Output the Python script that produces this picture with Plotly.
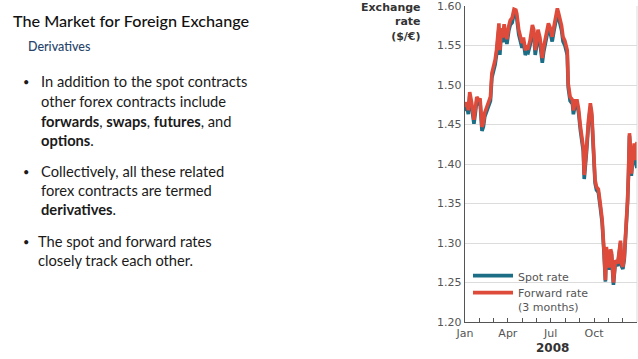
import plotly.graph_objects as go

# ---------------- data ----------------
dates = [
    "2008-01-01", "2008-01-05", "2008-01-08", "2008-01-11", "2008-01-15", "2008-01-20", "2008-01-23",
    "2008-01-26", "2008-01-30", "2008-02-02", "2008-02-06", "2008-02-09", "2008-02-12", "2008-02-16",
    "2008-02-21", "2008-02-24", "2008-02-27", "2008-03-02", "2008-03-05", "2008-03-08", "2008-03-11",
    "2008-03-13", "2008-03-15", "2008-03-18", "2008-03-21", "2008-03-24", "2008-03-27", "2008-03-30",
    "2008-04-03", "2008-04-06", "2008-04-10", "2008-04-14", "2008-04-18", "2008-04-20", "2008-04-24",
    "2008-04-27", "2008-05-01", "2008-05-04", "2008-05-08", "2008-05-11", "2008-05-14", "2008-05-18",
    "2008-05-23", "2008-05-26", "2008-05-29", "2008-06-01", "2008-06-04", "2008-06-08", "2008-06-10",
    "2008-06-13", "2008-06-16", "2008-06-19", "2008-06-23", "2008-06-26", "2008-06-30", "2008-07-04",
    "2008-07-08", "2008-07-11", "2008-07-15", "2008-07-18", "2008-07-21", "2008-07-24", "2008-07-27",
    "2008-07-31", "2008-08-05", "2008-08-07", "2008-08-11", "2008-08-16", "2008-08-18", "2008-08-22",
    "2008-08-26", "2008-08-29", "2008-09-02", "2008-09-05", "2008-09-08", "2008-09-10", "2008-09-13",
    "2008-09-15", "2008-09-19", "2008-09-23", "2008-09-26", "2008-09-29", "2008-10-03", "2008-10-06",
    "2008-10-10", "2008-10-14", "2008-10-18", "2008-10-22", "2008-10-25", "2008-10-27", "2008-10-30",
    "2008-11-02", "2008-11-05", "2008-11-07", "2008-11-11", "2008-11-15", "2008-11-20", "2008-11-24",
    "2008-11-26", "2008-11-28", "2008-12-01", "2008-12-04", "2008-12-09", "2008-12-11", "2008-12-13",
    "2008-12-15", "2008-12-17", "2008-12-19", "2008-12-22", "2008-12-25", "2008-12-28", "2008-12-31",
]

forward_rate = [
    1.472, 1.478, 1.468, 1.491, 1.478, 1.456, 1.470,
    1.485, 1.480, 1.483, 1.447, 1.452, 1.465, 1.472,
    1.480, 1.485, 1.515, 1.525, 1.532, 1.545, 1.570,
    1.578, 1.544, 1.572, 1.560, 1.577, 1.566, 1.558,
    1.575, 1.582, 1.585, 1.596, 1.595, 1.590, 1.570,
    1.561, 1.553, 1.560, 1.544, 1.548, 1.547, 1.556,
    1.576, 1.570, 1.544, 1.555, 1.570, 1.560, 1.548,
    1.534, 1.548, 1.557, 1.565, 1.578, 1.572, 1.561,
    1.575, 1.585, 1.597, 1.590, 1.582, 1.575, 1.561,
    1.556, 1.544, 1.502, 1.485, 1.481, 1.468, 1.480,
    1.480, 1.470, 1.447, 1.430, 1.421, 1.386, 1.405,
    1.421, 1.455, 1.477, 1.465, 1.421, 1.380, 1.371,
    1.368, 1.350, 1.330, 1.290, 1.253, 1.295, 1.285,
    1.269, 1.292, 1.288, 1.250, 1.278, 1.274, 1.290,
    1.303, 1.274, 1.270, 1.282, 1.325, 1.355, 1.390,
    1.439, 1.420, 1.388, 1.410, 1.426, 1.405, 1.428,
]

spot_rate = [
    1.467, 1.473, 1.463, 1.486, 1.473, 1.451, 1.465,
    1.480, 1.475, 1.478, 1.442, 1.447, 1.460, 1.467,
    1.475, 1.480, 1.509, 1.519, 1.526, 1.539, 1.564,
    1.572, 1.538, 1.566, 1.554, 1.571, 1.560, 1.552,
    1.569, 1.576, 1.579, 1.590, 1.589, 1.584, 1.564,
    1.555, 1.547, 1.554, 1.538, 1.542, 1.541, 1.550,
    1.570, 1.564, 1.538, 1.549, 1.564, 1.554, 1.542,
    1.528, 1.542, 1.551, 1.559, 1.572, 1.566, 1.555,
    1.569, 1.579, 1.591, 1.584, 1.576, 1.569, 1.555,
    1.550, 1.538, 1.497, 1.480, 1.476, 1.463, 1.475,
    1.475, 1.465, 1.442, 1.425, 1.416, 1.381, 1.400,
    1.416, 1.450, 1.472, 1.460, 1.416, 1.376, 1.367,
    1.364, 1.346, 1.326, 1.287, 1.251, 1.292, 1.282,
    1.266, 1.289, 1.285, 1.247, 1.275, 1.271, 1.287,
    1.300, 1.271, 1.267, 1.279, 1.322, 1.352, 1.387,
    1.436, 1.417, 1.385, 1.406, 1.422, 1.401, 1.395,
]

y_ticks = [1.20, 1.25, 1.30, 1.35, 1.40, 1.45, 1.50, 1.55, 1.60]
y_tick_labels = ["1.20", "1.25", "1.30", "1.35", "1.40", "1.45", "1.50", "1.55", "1.60"]
x_tick_vals = ["2008-01-01", "2008-04-01", "2008-07-01", "2008-10-01"]
x_tick_labels = ["Jan", "Apr", "Jul", "Oct"]

# ---------------- layout helpers (pixel -> paper) ----------------
W, H = 638, 359
ML, MR, MT, MB = 465, 1, 6, 37
PW, PH = W - ML - MR, H - MT - MB


def px(x):
    return (x - ML) / PW


def py(y):
    return (H - MB - y) / PH


SPOT_C = "#1c6d86"
FWD_C = "#df4b3b"
AX_FONT = "DejaVu Sans"
LEG_FONT = dict(family=AX_FONT, size=11, color="#555555")

fig = go.Figure()
fig.add_trace(go.Scatter(
    x=dates, y=spot_rate, mode="lines", name="Spot rate", legend="legend",
    line=dict(color=SPOT_C, width=3.6), hoverinfo="skip",
))
fig.add_trace(go.Scatter(
    x=dates, y=forward_rate, mode="lines", name="Forward rate<br>(3 months)", legend="legend2",
    line=dict(color=FWD_C, width=3.6), hoverinfo="skip",
))

fig.update_layout(
    width=W, height=H,
    margin=dict(l=ML, r=MR, t=MT, b=MB, pad=0),
    paper_bgcolor="white", plot_bgcolor="white",
    showlegend=True,
    legend=dict(
        x=px(468), y=py(262), xanchor="left", yanchor="top", valign="top",
        bgcolor="rgba(0,0,0,0)", borderwidth=0, font=LEG_FONT, itemwidth=40,
    ),
    legend2=dict(
        x=px(468), y=py(279), xanchor="left", yanchor="top", valign="top",
        bgcolor="rgba(0,0,0,0)", borderwidth=0, font=LEG_FONT, itemwidth=40,
    ),
    xaxis=dict(
        type="date",
        range=["2008-01-01", "2008-12-31"],
        tickmode="array", tickvals=x_tick_vals, ticktext=x_tick_labels,
        ticks="inside", ticklen=4, tickcolor="#555555", tickwidth=1,
        minor=dict(dtick="M1", ticks="inside", ticklen=4, tickcolor="#555555", tickwidth=1, showgrid=False),
        showgrid=False, zeroline=False,
        showline=True, linecolor="#555555", linewidth=1.3,
        tickfont=dict(family=AX_FONT, size=11, color="#555555"),
        ticklabeloverflow="allow",
        fixedrange=True,
    ),
    yaxis=dict(
        range=[1.20, 1.60],
        tickmode="array", tickvals=y_ticks, ticktext=y_tick_labels,
        ticks="", showgrid=True, gridcolor="#dcdcdc", gridwidth=1,
        zeroline=False, showline=True, linecolor="#555555", linewidth=1.3,
        tickfont=dict(family=AX_FONT, size=11, color="#555555"),
        ticklabeloverflow="allow",
        fixedrange=True,
    ),
)

# right frame line of plot
fig.add_shape(type="line", xref="paper", yref="paper", x0=1, x1=1, y0=0, y1=1,
              line=dict(color="#dcdcdc", width=1))

# axis titles
fig.add_annotation(text="<b>Exchange<br>rate<br>(&#36;/€)</b>", x=px(423), y=py(-1), xref="paper", yref="paper",
                   xanchor="right", yanchor="top", align="right", showarrow=False,
                   font=dict(family=AX_FONT, size=11, color="#333333"))
fig.add_annotation(text="<b>2008</b>", x=px(552), y=py(348), xref="paper", yref="paper",
                   xanchor="center", yanchor="middle", showarrow=False,
                   font=dict(family=AX_FONT, size=12, color="#333333"))

# slide text
TXT_FONT = "Lato"
fig.add_annotation(text="The Market for Foreign Exchange", x=px(11), y=py(20), xref="paper", yref="paper",
                   xanchor="left", yanchor="middle", showarrow=False,
                   font=dict(family=TXT_FONT, size=16.2, color="#111111", weight=500))
fig.add_annotation(text="Derivatives", x=px(26), y=py(46), xref="paper", yref="paper",
                   xanchor="left", yanchor="middle", showarrow=False,
                   font=dict(family=TXT_FONT, size=12.5, color="#27456b", weight=500))

lines = [
    (39, 81, "In addition to the spot contracts"),
    (39, 101, "other forex contracts include"),
    (39, 121, "<b>forwards</b>, <b>swaps</b>, <b>futures</b>, and"),
    (39, 140, "<b>options</b>."),
    (39, 171, "Collectively, all these related"),
    (39, 190, "forex contracts are termed"),
    (39, 209, "<b>derivatives</b>."),
    (36, 241, "The spot and forward rates"),
    (36, 260, "closely track each other."),
]
for x0, y0, t in lines:
    fig.add_annotation(text=t, x=px(x0), y=py(y0), xref="paper", yref="paper",
                       xanchor="left", yanchor="middle", showarrow=False,
                       font=dict(family=TXT_FONT, size=14.7, color="#1a1a1a"))
for y0 in (81, 171, 241):
    fig.add_annotation(text="•", x=px(21), y=py(y0), xref="paper", yref="paper",
                       xanchor="left", yanchor="middle", showarrow=False,
                       font=dict(family=TXT_FONT, size=11, color="#1a1a1a"))

fig.write_html(
    "out.html",
    config={"displayModeBar": False, "staticPlot": True},
    post_script="document.body.style.margin='0';document.body.style.overflow='hidden';",
)
